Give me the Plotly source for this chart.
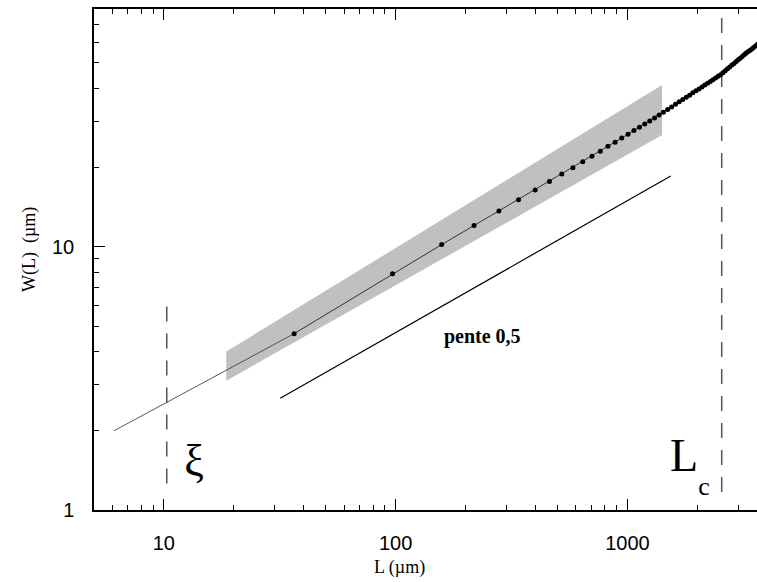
import plotly.graph_objects as go
import math

# ---- data ----
line_L = [6.1, 36.5]
line_W = [2.0, 4.68]

dot_L = [36.5, 97, 158, 218, 279, 339, 400, 461, 521, 582, 642, 703, 764, 824, 885, 945, 1006, 1067,
         1127, 1188, 1248, 1309, 1370, 1430, 1491, 1551, 1612, 1673, 1733, 1794, 1854, 1915, 1976,
         2036, 2097, 2157, 2218, 2279, 2339, 2400, 2460, 2521, 2582, 2642, 2703, 2763, 2824, 2885,
         2945, 3006, 3066, 3127, 3188, 3248, 3309, 3369, 3430, 3491, 3551, 3612, 3672]
dot_W = [4.68, 7.9, 10.2, 12.05, 13.7, 15.1, 16.45, 17.7, 18.9, 20.0, 21.05, 22.1, 23.1, 24.1, 25.0, 25.9, 26.8, 27.7,
         28.5, 29.3, 30.1, 30.9, 31.7, 32.5, 33.3, 34.0, 34.8, 35.6, 36.3, 37.0, 37.7, 38.5, 39.2,
         39.8, 40.5, 41.2, 41.9, 42.5, 43.2, 43.8, 44.5, 45.1, 45.9, 46.7, 47.5, 48.3, 49.1, 49.8,
         50.6, 51.4, 52.1, 52.9, 53.7, 54.4, 55.1, 55.7, 56.4, 57.1, 57.8, 58.5, 59.2]

band_L = [18.6, 1411, 1411, 18.6, 18.6]
band_W = [4.0, 41.2, 26.6, 3.1, 4.0]

slope_L = [31.8, 1538]
slope_W = [2.66, 18.6]

xi_L = [10.3, 10.3]
xi_W = [1.26, 6.57]
lc_L = [2551, 2551]
lc_W = [1.17, 75.5]

x_major = [10, 100, 1000]
x_major_text = ["10", "100", "1000"]
x_minor = [6, 7, 8, 9, 20, 30, 40, 50, 60, 70, 80, 90,
           200, 300, 400, 500, 600, 700, 800, 900, 2000, 3000]
y_major = [1, 10]
y_major_text = ["1", "10"]
y_minor = [2, 3, 4, 5, 6, 7, 8, 9, 20, 30, 40, 50, 60, 70, 80]

fig = go.Figure()

fig.add_trace(go.Scatter(x=band_L, y=band_W, mode="lines", fill="toself",
                         fillcolor="#c0c0c0", line=dict(width=0), hoverinfo="skip"))
fig.add_trace(go.Scatter(x=xi_L, y=xi_W, mode="lines",
                         line=dict(color="#555555", width=1.5, dash="15px,12px")))
fig.add_trace(go.Scatter(x=lc_L, y=lc_W, mode="lines",
                         line=dict(color="#555555", width=1.5, dash="15px,12px")))
fig.add_trace(go.Scatter(x=slope_L, y=slope_W, mode="lines",
                         line=dict(color="black", width=1.2)))
fig.add_trace(go.Scatter(x=line_L, y=line_W, mode="lines",
                         line=dict(color="#444444", width=0.9)))
fig.add_trace(go.Scatter(x=dot_L, y=dot_W, mode="lines+markers",
                         line=dict(color="#222222", width=0.9),
                         marker=dict(color="black", size=5)))

# text labels
fig.add_trace(go.Scatter(x=[236.5], y=[4.51], mode="text", text=["<b>pente 0,5</b>"],
                         textfont=dict(family="Liberation Serif", size=20, color="black")))
fig.add_trace(go.Scatter(x=[13.5], y=[1.50], mode="text", text=["ξ"],
                         textfont=dict(family="Liberation Serif", size=44, color="black")))
fig.add_trace(go.Scatter(x=[1756], y=[1.55], mode="text", text=["L"],
                         textfont=dict(family="Liberation Serif", size=46, color="black")))
fig.add_trace(go.Scatter(x=[2141], y=[1.21], mode="text", text=["c"],
                         textfont=dict(family="Liberation Serif", size=26, color="black")))

axis_common = dict(type="log", showgrid=False, zeroline=False, showline=True,
                   linecolor="black", linewidth=1.5, ticks="inside", tickwidth=1.2,
                   ticklen=11, tickcolor="black",
                   tickfont=dict(family="Liberation Sans", size=20, color="black"))

fig.update_xaxes(**axis_common, range=[math.log10(5), 3.559], mirror="ticks",
                 tickmode="array", tickvals=x_major, ticktext=x_major_text,
                 ticklabelstandoff=14,
                 minor=dict(tickmode="array", tickvals=x_minor, ticks="inside",
                            ticklen=5, tickwidth=1.2, tickcolor="black", showgrid=False))
fig.update_yaxes(**axis_common, range=[0, 1.904], mirror=False,
                 tickmode="array", tickvals=y_major, ticktext=y_major_text,
                 ticklabelstandoff=14,
                 minor=dict(tickmode="array", tickvals=y_minor, ticks="inside",
                            ticklen=5, tickwidth=1.2, tickcolor="black", showgrid=False))

fig.update_layout(
    width=757, height=582,
    margin=dict(l=94, r=0, t=9, b=72),
    paper_bgcolor="white", plot_bgcolor="white",
    showlegend=False,
    annotations=[
        dict(text="L (µm)", xref="paper", yref="paper", x=0.4615, y=-0.114,
             xanchor="center", yanchor="middle", showarrow=False,
             font=dict(family="Liberation Serif", size=18, color="black")),
        dict(text="W(L)  (µm)", xref="paper", yref="paper", x=-0.0965, y=0.519,
             xanchor="center", yanchor="middle", textangle=-90, showarrow=False,
             font=dict(family="Liberation Serif", size=18, color="black")),
    ],
)

fig.write_html("out.html")
